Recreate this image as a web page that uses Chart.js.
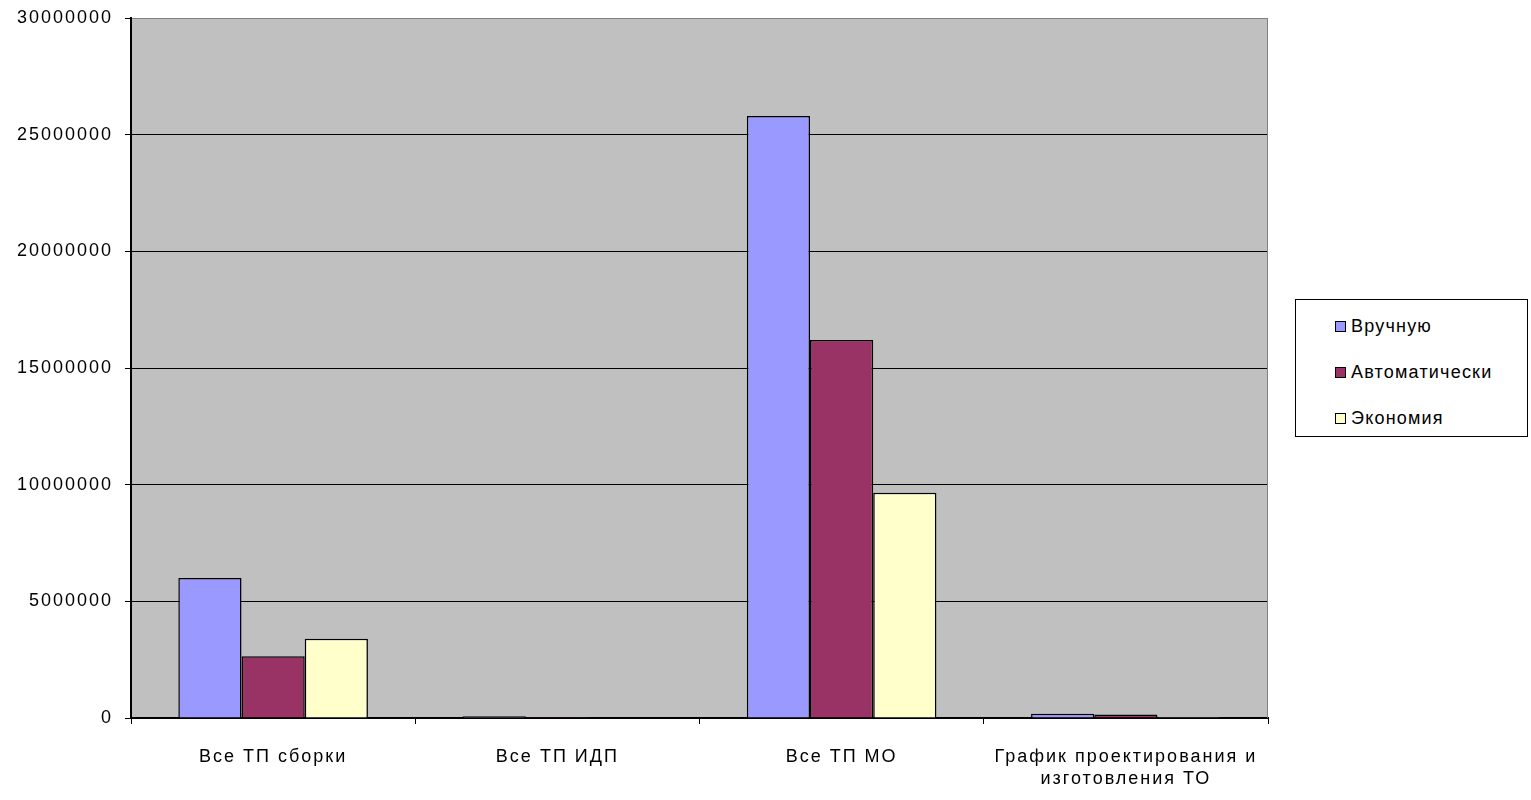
<!DOCTYPE html>
<html>
<head>
<meta charset="utf-8">
<script src="https://cdn.jsdelivr.net/npm/chart.js@4.4.0/dist/chart.umd.min.js"></script>
<style>
html,body{margin:0;padding:0;background:#fff;}
#wrap{position:relative;width:1531px;height:800px;}
#legend{position:absolute;left:1295px;top:299px;width:233px;height:138px;border:1px solid #000;background:#fff;box-sizing:border-box;font-family:"Liberation Sans",Arial,sans-serif;font-size:18px;letter-spacing:1.2px;color:#000;}
.item{position:absolute;left:39px;height:20px;line-height:20px;white-space:nowrap;}
.sw{display:inline-block;width:9px;height:9px;border:1.5px solid #000;margin-right:5px;vertical-align:0px;}
</style>
</head>
<body>
<div id="wrap">
<canvas id="c" width="1531" height="800"></canvas>
<div id="legend"></div>
</div>
<script>
const categories = ["Все ТП сборки", "Все ТП ИДП", "Все ТП МО", ["График проектирования и", "изготовления ТО"]];
const seriesNames = ["Вручную", "Автоматически", "Экономия"];
const manual = [6000000, 70000, 25800000, 180000];
const automatic = [2650000, 45000, 16200000, 150000];
const savings = [3400000, 25000, 9650000, 40000];
const seriesColors = ["#9999FF", "#993366", "#FFFFCC"];
const yTicks = [0, 5000000, 10000000, 15000000, 20000000, 25000000, 30000000];

const FONT = {family: '"Liberation Sans", Arial, sans-serif', size: 18, lineHeight: 1.22};

const spacingPlugin = {
  id: 'spacing',
  beforeLayout(chart){ chart.ctx.letterSpacing = '2px'; },
  beforeDraw(chart){
    chart.ctx.letterSpacing = '2px';
    const a = chart.chartArea, ctx = chart.ctx;
    ctx.save();
    ctx.fillStyle = '#C0C0C0';
    ctx.fillRect(a.left, a.top, a.right - a.left, a.bottom - a.top);
    ctx.restore();
  },
  afterDatasetsDraw(chart){
    const a = chart.chartArea, ctx = chart.ctx;
    ctx.save();
    ctx.strokeStyle = '#808080';
    ctx.lineWidth = 1;
    ctx.beginPath();
    ctx.moveTo(a.right - 0.5, a.top);
    ctx.lineTo(a.right - 0.5, a.bottom);
    ctx.stroke();
    ctx.restore();
  }
};

const dataArrays = [manual, automatic, savings];
const chart = new Chart(document.getElementById('c'), {
  type: 'bar',
  data: {
    labels: categories,
    datasets: seriesNames.map((n, i) => ({
      label: n,
      data: dataArrays[i],
      backgroundColor: seriesColors[i],
      borderColor: '#000',
      borderWidth: 1.5,
      barPercentage: 1,
      categoryPercentage: 0.667
    }))
  },
  options: {
    responsive: false,
    animation: false,
    layout: {padding: {left: 0, right: 263, top: 18, bottom: 0}},
    plugins: {legend: {display: false}, tooltip: {enabled: false}},
    scales: {
      x: {
        grid: {drawOnChartArea: false, color: '#000', tickLength: 6, offset: true, lineWidth: 1},
        border: {color: '#000', width: 2},
        ticks: {font: FONT, color: '#000', padding: 22, maxRotation: 0, autoSkip: false},
        afterFit(s){ s.height = 82; s.paddingLeft = 0; s.paddingRight = 0; }
      },
      y: {
        min: 0, max: 30000000,
        afterBuildTicks(s){ s.ticks = yTicks.map(v => ({value: v})); },
        grid: {
          color: c => (c.tick && c.tick.value === 30000000) ? '#808080' : '#000',
          tickColor: '#000', tickLength: 6, lineWidth: 1
        },
        border: {color: '#000', width: 2},
        ticks: {font: FONT, color: '#000', padding: 12, callback: v => String(v)},
        afterFit(s){ s.width = 131; s.paddingTop = 0; s.paddingBottom = 0; }
      }
    }
  },
  plugins: [spacingPlugin]
});

const leg = document.getElementById('legend');
const tops = [16, 62, 108];
seriesNames.forEach((n, i) => {
  const d = document.createElement('div');
  d.className = 'item';
  d.style.top = tops[i] + 'px';
  const sw = document.createElement('span');
  sw.className = 'sw';
  sw.style.background = seriesColors[i];
  d.appendChild(sw);
  d.appendChild(document.createTextNode(n));
  leg.appendChild(d);
});
</script>
</body>
</html>
